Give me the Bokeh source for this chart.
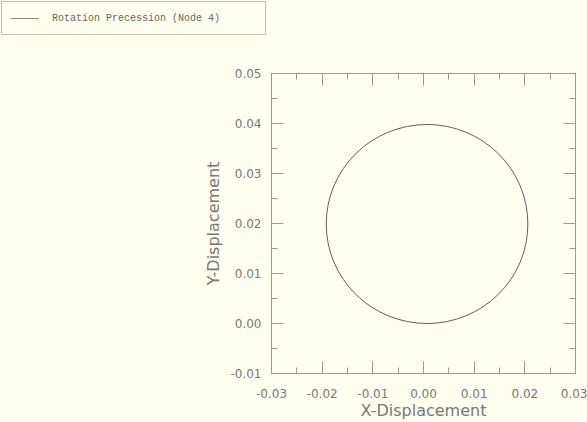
from bokeh.plotting import figure
from bokeh.layouts import column
from bokeh.models import (LinearAxis, FixedTicker, PrintfTickFormatter, Legend,
                          LegendItem, Range1d, ColumnDataSource)
from bokeh.embed import file_html
from bokeh.resources import INLINE

# data
center_x = [0.0007]
center_y = [0.0199]
diameter = [0.0398]
legend_label = "Rotation Precession (Node 4)"
x_ticks = [-0.03, -0.02, -0.01, 0.00, 0.01, 0.02, 0.03]
y_ticks = [-0.01, 0.00, 0.01, 0.02, 0.03, 0.04, 0.05]
x_minor = [-0.025, -0.015, -0.005, 0.005, 0.015, 0.025]
y_minor = [-0.005, 0.005, 0.015, 0.025, 0.035, 0.045]

BG = "#FFFFF0"
AX = "#999999"
LBL = "#777777"
FONT = "DejaVu Sans"

p = figure(width=587, height=382, output_backend="svg", toolbar_location=None,
           x_range=Range1d(-0.03, 0.03), y_range=Range1d(-0.01, 0.05),
           x_axis_label="X-Displacement", y_axis_label="Y-Displacement",
           min_border_left=271, min_border_right=12, min_border_top=33,
           min_border_bottom=46)
p.background_fill_color = BG
p.border_fill_color = BG
p.outline_line_color = AX
p.xgrid.visible = False
p.ygrid.visible = False

src = ColumnDataSource(dict(x=center_x, y=center_y, d=diameter))
p.ellipse(x="x", y="y", width="d", height="d", source=src,
          fill_color=None, line_color="#5f5f5f", line_width=1)

def style(ax, xt, mt, labels=True):
    ax.ticker = FixedTicker(ticks=xt, minor_ticks=mt)
    ax.formatter = PrintfTickFormatter(format="%.2f")
    ax.axis_line_color = AX
    ax.major_tick_line_color = AX
    ax.minor_tick_line_color = AX
    ax.major_tick_in = 12
    ax.major_tick_out = 0
    ax.minor_tick_in = 6
    ax.minor_tick_out = 0
    ax.major_label_text_color = LBL
    ax.major_label_text_font = FONT
    ax.major_label_text_font_size = "12px"
    ax.axis_label_text_color = LBL
    ax.axis_label_text_font = FONT
    ax.axis_label_text_font_size = "16px"
    ax.axis_label_text_font_style = "normal"
    if not labels:
        ax.major_label_overrides = {t: "" for t in xt}
        ax.major_label_standoff = 0

for ax in p.xaxis:
    style(ax, x_ticks, x_minor)
    ax.major_label_standoff = 15
    ax.axis_label_standoff = 0
for ax in p.yaxis:
    style(ax, y_ticks, y_minor)
    ax.major_label_standoff = 10
    ax.axis_label_standoff = 4

top = LinearAxis()
style(top, x_ticks, x_minor, labels=False)
p.add_layout(top, "above")
right = LinearAxis()
style(right, y_ticks, y_minor, labels=False)
p.add_layout(right, "right")

# legend panel
lg = figure(frame_width=270, frame_height=40, output_backend="svg",
            toolbar_location=None, x_axis_type=None, y_axis_type=None,
            min_border_left=0, min_border_right=0, min_border_top=0,
            min_border_bottom=0, x_range=Range1d(0, 1), y_range=Range1d(0, 1))
lg.grid.visible = False
lg.outline_line_color = None
lg.background_fill_color = BG
lg.border_fill_color = BG
dummy = lg.line(x=[float("nan")], y=[float("nan")], line_color="#888888",
                line_width=1)
legend = Legend(items=[LegendItem(label=legend_label, renderers=[dummy])],
                location="top_left", orientation="vertical",
                background_fill_color=BG, background_fill_alpha=1,
                border_line_color="#888888", border_line_width=1,
                label_text_font="Liberation Mono", label_text_font_size="10px",
                label_text_color="#666666", glyph_width=29, glyph_height=16,
                label_standoff=13, padding=8, margin=1, label_width=205,
                label_height=15)
lg.add_layout(legend, "center")

layout = column(lg, p, spacing=0, styles={"background-color": BG})
open("out.html", "w").write(file_html(layout, INLINE))
